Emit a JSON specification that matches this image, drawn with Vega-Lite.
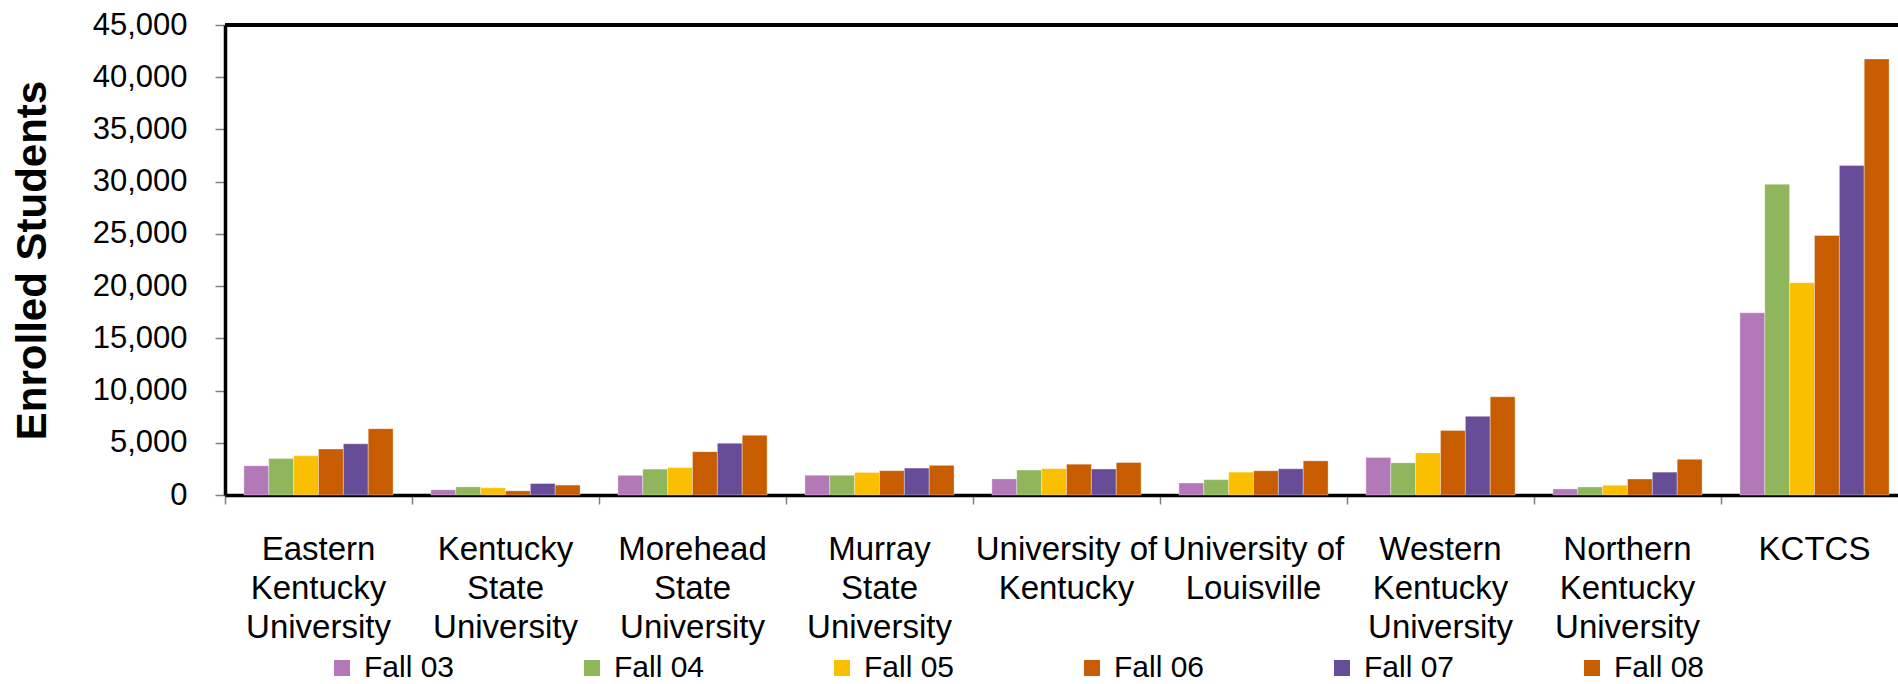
{
  "$schema": "https://vega.github.io/schema/vega-lite/v6.json",
  "width": 1673,
  "height": 470,
  "autosize": {"type": "none"},
  "padding": {"left": 225, "top": 25, "right": 0, "bottom": 189},
  "background": "white",
  "config": {"font": "Liberation Sans", "view": {"stroke": null}},
  "data": {
    "values": [
      {"college": "Eastern Kentucky University", "term": "Fall 03", "students": 2800},
      {"college": "Eastern Kentucky University", "term": "Fall 04", "students": 3500},
      {"college": "Eastern Kentucky University", "term": "Fall 05", "students": 3750},
      {"college": "Eastern Kentucky University", "term": "Fall 06", "students": 4400},
      {"college": "Eastern Kentucky University", "term": "Fall 07", "students": 4900},
      {"college": "Eastern Kentucky University", "term": "Fall 08", "students": 6350},
      {"college": "Kentucky State University", "term": "Fall 03", "students": 500},
      {"college": "Kentucky State University", "term": "Fall 04", "students": 780},
      {"college": "Kentucky State University", "term": "Fall 05", "students": 690},
      {"college": "Kentucky State University", "term": "Fall 06", "students": 400},
      {"college": "Kentucky State University", "term": "Fall 07", "students": 1100},
      {"college": "Kentucky State University", "term": "Fall 08", "students": 950},
      {"college": "Morehead State University", "term": "Fall 03", "students": 1880},
      {"college": "Morehead State University", "term": "Fall 04", "students": 2480},
      {"college": "Morehead State University", "term": "Fall 05", "students": 2620},
      {"college": "Morehead State University", "term": "Fall 06", "students": 4150},
      {"college": "Morehead State University", "term": "Fall 07", "students": 4960},
      {"college": "Morehead State University", "term": "Fall 08", "students": 5720},
      {"college": "Murray State University", "term": "Fall 03", "students": 1890},
      {"college": "Murray State University", "term": "Fall 04", "students": 1890},
      {"college": "Murray State University", "term": "Fall 05", "students": 2160},
      {"college": "Murray State University", "term": "Fall 06", "students": 2330},
      {"college": "Murray State University", "term": "Fall 07", "students": 2580},
      {"college": "Murray State University", "term": "Fall 08", "students": 2840},
      {"college": "University of Kentucky", "term": "Fall 03", "students": 1540},
      {"college": "University of Kentucky", "term": "Fall 04", "students": 2390},
      {"college": "University of Kentucky", "term": "Fall 05", "students": 2520},
      {"college": "University of Kentucky", "term": "Fall 06", "students": 2950},
      {"college": "University of Kentucky", "term": "Fall 07", "students": 2490},
      {"college": "University of Kentucky", "term": "Fall 08", "students": 3110},
      {"college": "University of Louisville", "term": "Fall 03", "students": 1150},
      {"college": "University of Louisville", "term": "Fall 04", "students": 1470},
      {"college": "University of Louisville", "term": "Fall 05", "students": 2190},
      {"college": "University of Louisville", "term": "Fall 06", "students": 2320},
      {"college": "University of Louisville", "term": "Fall 07", "students": 2510},
      {"college": "University of Louisville", "term": "Fall 08", "students": 3270},
      {"college": "Western Kentucky University", "term": "Fall 03", "students": 3600},
      {"college": "Western Kentucky University", "term": "Fall 04", "students": 3080},
      {"college": "Western Kentucky University", "term": "Fall 05", "students": 4030},
      {"college": "Western Kentucky University", "term": "Fall 06", "students": 6170},
      {"college": "Western Kentucky University", "term": "Fall 07", "students": 7530},
      {"college": "Western Kentucky University", "term": "Fall 08", "students": 9400},
      {"college": "Northern Kentucky University", "term": "Fall 03", "students": 580},
      {"college": "Northern Kentucky University", "term": "Fall 04", "students": 770},
      {"college": "Northern Kentucky University", "term": "Fall 05", "students": 930},
      {"college": "Northern Kentucky University", "term": "Fall 06", "students": 1530},
      {"college": "Northern Kentucky University", "term": "Fall 07", "students": 2190},
      {"college": "Northern Kentucky University", "term": "Fall 08", "students": 3420},
      {"college": "KCTCS", "term": "Fall 03", "students": 17450},
      {"college": "KCTCS", "term": "Fall 04", "students": 29750},
      {"college": "KCTCS", "term": "Fall 05", "students": 20330},
      {"college": "KCTCS", "term": "Fall 06", "students": 24850},
      {"college": "KCTCS", "term": "Fall 07", "students": 31550},
      {"college": "KCTCS", "term": "Fall 08", "students": 41750}
    ]
  },
  "layer": [
    {
      "mark": {"type": "bar", "stroke": "white", "strokeWidth": 1, "strokeOpacity": 0.35},
      "encoding": {
        "x": {
          "field": "college",
          "type": "nominal",
          "sort": ["Eastern Kentucky University", "Kentucky State University", "Morehead State University", "Murray State University", "University of Kentucky", "University of Louisville", "Western Kentucky University", "Northern Kentucky University", "KCTCS"],
          "scale": {"range": [0, 1683], "paddingInner": 0, "paddingOuter": 0},
          "axis": {
            "title": null,
            "labelAngle": 0,
            "bandPosition": 0,
            "tickSize": 9,
            "tickColor": "#808080",
            "tickWidth": 1.5,
            "domainColor": "black",
            "domainWidth": 3.5,
            "labelFontSize": 33,
            "labelLineHeight": 39,
            "labelBaseline": "top",
            "labelPadding": 29,
            "labelColor": "black",
            "labelLimit": 400,
            "labelOverlap": false,
            "labelExpr": "indexof(datum.label, 'University of') == 0 ? ['University of', replace(datum.label, 'University of ', '')] : split(datum.label, ' ')"
          }
        },
        "xOffset": {"field": "term", "type": "nominal", "scale": {"paddingInner": 0, "paddingOuter": 0.76}},
        "y": {
          "field": "students",
          "type": "quantitative",
          "scale": {"domain": [0, 45000], "nice": false},
          "axis": {
            "values": [0, 5000, 10000, 15000, 20000, 25000, 30000, 35000, 40000, 45000],
            "format": ",d",
            "grid": false,
            "tickSize": 10,
            "tickColor": "#808080",
            "tickWidth": 1.5,
            "domainColor": "black",
            "domainWidth": 3.5,
            "labelFontSize": 31,
            "labelPadding": 28,
            "labelColor": "black",
            "title": "Enrolled Students",
            "titleFontSize": 42,
            "titleFontWeight": "bold",
            "titleColor": "black",
            "titlePadding": 38
          }
        },
        "color": {
          "field": "term",
          "type": "nominal",
          "scale": {
            "domain": ["Fall 03", "Fall 04", "Fall 05", "Fall 06", "Fall 07", "Fall 08"],
            "range": ["#B378B8", "#8FB65C", "#FABF00", "#C85C00", "#674C97", "#C85C00"]
          },
          "legend": {
            "orient": "none",
            "direction": "horizontal",
            "legendX": 102,
            "legendY": 628,
            "title": null,
            "padding": 0,
            "symbolType": "square",
            "symbolSize": 256,
            "symbolStrokeWidth": 0,
            "labelFontSize": 30,
            "labelOffset": 7,
            "labelColor": "black",
            "columnPadding": 122
          }
        }
      }
    },
    {
      "mark": {"type": "rule", "color": "black", "strokeWidth": 3.5},
      "encoding": {"y": {"datum": 45000}}
    }
  ]
}
